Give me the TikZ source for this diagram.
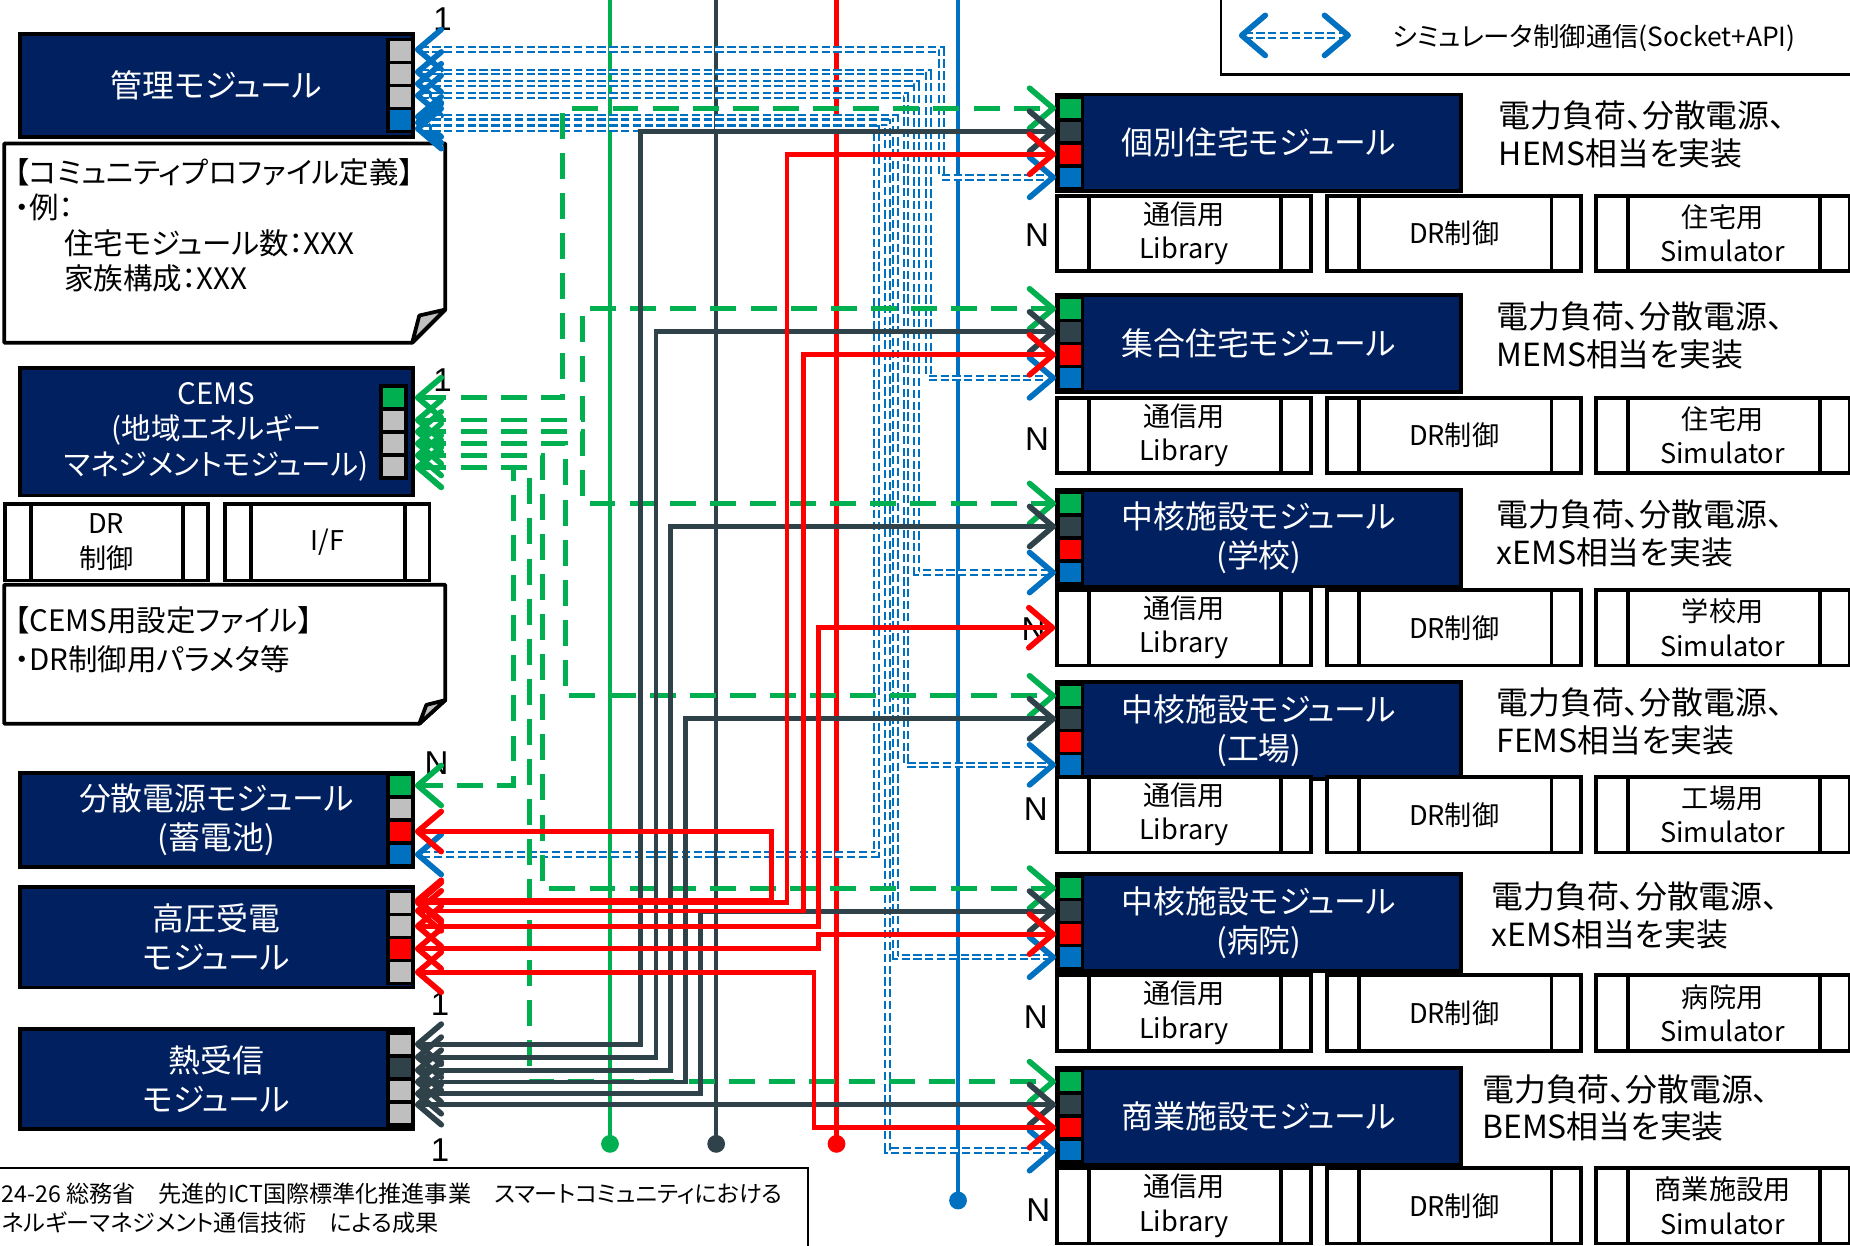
\documentclass[tikz,border=0pt]{standalone}
\usepackage{fontspec}
\setmainfont{Noto Sans CJK JP}[RawFeature=+palt]
\newfontfamily\numfont{Liberation Sans}
\usetikzlibrary{arrows.meta, positioning}
\definecolor{modnavy}{HTML}{002060}
\definecolor{portgray}{HTML}{BFBFBF}
\definecolor{sigreen}{HTML}{00B050}
\definecolor{sidark}{HTML}{2F4249}
\definecolor{sired}{HTML}{FF0000}
\definecolor{siblue}{HTML}{0070C0}

\begin{document}
\begin{tikzpicture}[
  x=0.5pt, y=-0.5pt,
  module/.style={draw=black, line width=1.6pt, fill=modnavy, text=white, align=center,
    inner sep=0pt, font=\fontsize{13.5}{16.5}\selectfont},
  port/.style={draw=black, line width=1.5pt, minimum width=10.5pt, minimum height=9.75pt, inner sep=0pt},
  libbox/.style={draw=black, line width=1.6pt, fill=white, minimum width=107.5pt,
    minimum height=32pt, inner sep=0pt, align=center, font=\fontsize{11.5}{14.5}\selectfont,
    path picture={\draw[line width=1.6pt]
      ([xshift=13.5pt]path picture bounding box.north west) -- ([xshift=13.5pt]path picture bounding box.south west)
      ([xshift=-12.5pt]path picture bounding box.north east) -- ([xshift=-12.5pt]path picture bounding box.south east);}},
  smalllib/.style={libbox, minimum height=32.5pt,
    path picture={\draw[line width=1.6pt]
      ([xshift=11pt]path picture bounding box.north west) -- ([xshift=11pt]path picture bounding box.south west)
      ([xshift=-10.5pt]path picture bounding box.north east) -- ([xshift=-10.5pt]path picture bounding box.south east);}},
  desc/.style={anchor=west, align=left, inner sep=0pt, font=\fontsize{13.5}{16}\selectfont},
  mult/.style={inner sep=0pt, font=\numfont\fontsize{14}{14}\selectfont},
  notebox/.style={draw=black, line width=1.6pt, fill=white, line join=round},
  notetext/.style={anchor=north west, align=left, inner sep=0pt, font=\fontsize{12.5}{15}\selectfont},
  twoway/.style={{Straight Barb[round, length=10pt, width=17pt, line width=2.4pt]}-{Straight Barb[round, length=10pt, width=17pt, line width=2.4pt]}},
  glink/.style={draw=sigreen, line width=2pt, dash pattern=on 11pt off 6pt, twoway},
  dlink/.style={draw=sidark, line width=2pt, twoway},
  rlink/.style={draw=sired, line width=2pt, twoway},
  blink/.style={draw=siblue, line width=0.85pt, double=white, double distance=1.1pt,
    dash pattern=on 3.5pt off 1.5pt, twoway},
  bus/.style={line width=1.8pt, -{Circle[length=7.5pt, width=7.5pt]}}
]
  \useasboundingbox (0,0) rectangle (1568,1056);

  % Legend and footer frames.
  \node[draw=black, line width=1pt, minimum width=272.5pt, minimum height=36pt, inner sep=0pt] (legend) at (1307.5,27) {};
  \coordinate (leg-a) at (1050,30);
  \coordinate (leg-b) at (1145,30);
  \node[anchor=west, inner sep=0pt, font=\fontsize{11.2}{14}\selectfont] (leg-text) at (1180,32) {シミュレータ制御通信(Socket+API)};
  \node[draw=black, line width=0.8pt, minimum width=346pt, minimum height=40pt, inner sep=0pt] (footer) at (339,1030) {};
  \node[anchor=west, align=left, inner sep=0pt, font=\fontsize{9.8}{12}\selectfont] (footer-text) at (1,1024)
    {24-26 総務省　先進的ICT国際標準化推進事業　スマートコミュニティにおける\\ネルギーマネジメント通信技術　による成果};

  % Left-hand modules.
  \node[module, minimum width=166.5pt, minimum height=43.5pt] (kanri) at (183.5,72.5) {管理モジュール};
  \node[port, fill=portgray] (kanri-1) at (339.5,43.25) {};
  \node[port, fill=portgray] (kanri-2) at (339.5,62.75) {};
  \node[port, fill=portgray] (kanri-3) at (339.5,82.25) {};
  \node[port, fill=siblue] (kanri-4) at (339.5,101.75) {};
  \node[mult] (kanri-m) at (375,16) {1};

  \node[inner sep=0pt, minimum width=186.5pt, minimum height=84pt] (prof) at (190.5,206) {};
  \draw[notebox] (prof.north west) -- (prof.north east) -- ([yshift=14pt]prof.south east)
    -- ([xshift=-14pt]prof.south east) -- (prof.south west) -- cycle;
  \draw[notebox, fill=portgray] ([yshift=14pt]prof.south east) -- ([xshift=-14pt]prof.south east)
    -- ([xshift=-11pt, yshift=11.5pt]prof.south east) -- cycle;
  \node[notetext] (prof-text) at (12,134) {【コミュニティプロファイル定義】\\・例：\\\hspace*{21pt}住宅モジュール数：XXX\\\hspace*{21pt}家族構成：XXX};

  \node[module, minimum width=166.5pt, minimum height=54pt, font=\fontsize{12.5}{15}\selectfont] (cems) at (183.5,366)
    {CEMS\\(地域エネルギー\\マネジメントモジュール)};
  \node[port, fill=sigreen] (cems-1) at (333.5,337) {};
  \node[port, fill=portgray] (cems-2) at (333.5,356.5) {};
  \node[port, fill=portgray] (cems-3) at (333.5,376) {};
  \node[port, fill=portgray] (cems-4) at (333.5,395.5) {};
  \node[mult] (cems-m) at (375,322) {1};
  \node[smalllib, minimum width=86pt] (cems-dr) at (90,459.5) {DR\\制御};
  \node[smalllib, minimum width=86.5pt] (cems-if) at (277.5,459.5) {I/F};

  \node[inner sep=0pt, minimum width=186.5pt, minimum height=58.5pt] (cemsfile) at (190.5,554.5) {};
  \draw[notebox] (cemsfile.north west) -- (cemsfile.north east) -- ([yshift=10pt]cemsfile.south east)
    -- ([xshift=-11pt]cemsfile.south east) -- (cemsfile.south west) -- cycle;
  \draw[notebox, fill=portgray] ([yshift=10pt]cemsfile.south east) -- ([xshift=-11pt]cemsfile.south east)
    -- ([xshift=-8pt, yshift=8pt]cemsfile.south east) -- cycle;
  \node[notetext, font=\fontsize{12.5}{16.5}\selectfont] (cemsfile-text) at (12,514) {【CEMS用設定ファイル】\\・DR制御用パラメタ等};

  \node[module, minimum width=166.5pt, minimum height=40pt] (bunsan) at (183.5,695) {分散電源モジュール\\(蓄電池)};
  \node[port, fill=sigreen] (bunsan-1) at (339.5,665.75) {};
  \node[port, fill=portgray] (bunsan-2) at (339.5,685.25) {};
  \node[port, fill=sired] (bunsan-3) at (339.5,704.75) {};
  \node[port, fill=siblue] (bunsan-4) at (339.5,724.25) {};
  \node[mult] (bunsan-m) at (370,647) {N};

  \node[module, minimum width=166.5pt, minimum height=42.5pt] (koatsu) at (183.5,794.5) {高圧受電\\モジュール};
  \node[port, fill=portgray] (koatsu-1) at (339.5,765.25) {};
  \node[port, fill=portgray] (koatsu-2) at (339.5,784.75) {};
  \node[port, fill=sired] (koatsu-3) at (339.5,804.25) {};
  \node[port, fill=portgray] (koatsu-4) at (339.5,823.75) {};
  \node[mult] (koatsu-m) at (373,851) {1};

  \node[module, minimum width=166.5pt, minimum height=42.5pt] (netsu) at (183.5,914.5) {熱受信\\モジュール};
  \node[port, fill=portgray] (netsu-1) at (339.5,885.25) {};
  \node[port, fill=sidark] (netsu-2) at (339.5,904.75) {};
  \node[port, fill=portgray] (netsu-3) at (339.5,924.25) {};
  \node[port, fill=portgray] (netsu-4) at (339.5,943.75) {};
  \node[mult] (netsu-m) at (373,975) {1};

  % Right-hand modules.
  \node[module, minimum width=171pt, minimum height=41pt] (kobetsu) at (1067,121) {個別住宅モジュール};
  \node[port, fill=sigreen] (kobetsu-g) at (907,91.75) {};
  \node[port, fill=sidark] (kobetsu-d) at (907,111.25) {};
  \node[port, fill=sired] (kobetsu-r) at (907,130.75) {};
  \node[port, fill=siblue] (kobetsu-b) at (907,150.25) {};
  \node[libbox] (kobetsu-lib) at (1003.5,198) {通信用\\Library};
  \node[libbox] (kobetsu-dr) at (1232.5,198) {DR制御};
  \node[libbox] (kobetsu-sim) at (1460,198) {住宅用\\Simulator};
  \node[mult] (kobetsu-n) at (879,199) {N};
  \node[desc] (kobetsu-desc) at (1270,114) {電力負荷、分散電源、\\HEMS相当を実装};

  \node[module, minimum width=171pt, minimum height=41pt] (shugo) at (1067,291) {集合住宅モジュール};
  \node[port, fill=sigreen] (shugo-g) at (907,261.75) {};
  \node[port, fill=sidark] (shugo-d) at (907,281.25) {};
  \node[port, fill=sired] (shugo-r) at (907,300.75) {};
  \node[port, fill=siblue] (shugo-b) at (907,320.25) {};
  \node[libbox] (shugo-lib) at (1003.5,369) {通信用\\Library};
  \node[libbox] (shugo-dr) at (1232.5,369) {DR制御};
  \node[libbox] (shugo-sim) at (1460,369) {住宅用\\Simulator};
  \node[mult] (shugo-n) at (879,372) {N};
  \node[desc] (shugo-desc) at (1268,284) {電力負荷、分散電源、\\MEMS相当を実装};

  \node[module, minimum width=171pt, minimum height=41pt] (gakko) at (1067,456) {中核施設モジュール\\(学校)};
  \node[port, fill=sigreen] (gakko-g) at (907,426.75) {};
  \node[port, fill=sidark] (gakko-d) at (907,446.25) {};
  \node[port, fill=sired] (gakko-r) at (907,465.75) {};
  \node[port, fill=siblue] (gakko-b) at (907,485.25) {};
  \node[libbox] (gakko-lib) at (1003.5,532) {通信用\\Library};
  \node[libbox] (gakko-dr) at (1232.5,532) {DR制御};
  \node[libbox] (gakko-sim) at (1460,532) {学校用\\Simulator};
  \node[mult] (gakko-n) at (876,533) {N};
  \node[desc] (gakko-desc) at (1268,452) {電力負荷、分散電源、\\xEMS相当を実装};

  \node[module, minimum width=171pt, minimum height=41pt] (kojo) at (1067,619) {中核施設モジュール\\(工場)};
  \node[port, fill=sigreen] (kojo-g) at (907,589.75) {};
  \node[port, fill=sidark] (kojo-d) at (907,609.25) {};
  \node[port, fill=sired] (kojo-r) at (907,628.75) {};
  \node[port, fill=siblue] (kojo-b) at (907,648.25) {};
  \node[libbox] (kojo-lib) at (1003.5,690.5) {通信用\\Library};
  \node[libbox] (kojo-dr) at (1232.5,690.5) {DR制御};
  \node[libbox] (kojo-sim) at (1460,690.5) {工場用\\Simulator};
  \node[mult] (kojo-n) at (878,686) {N};
  \node[desc] (kojo-desc) at (1268,611.5) {電力負荷、分散電源、\\FEMS相当を実装};

  \node[module, minimum width=171pt, minimum height=41pt] (byoin) at (1067,782) {中核施設モジュール\\(病院)};
  \node[port, fill=sigreen] (byoin-g) at (907,752.75) {};
  \node[port, fill=sidark] (byoin-d) at (907,772.25) {};
  \node[port, fill=sired] (byoin-r) at (907,791.75) {};
  \node[port, fill=siblue] (byoin-b) at (907,811.25) {};
  \node[libbox] (byoin-lib) at (1003.5,858.5) {通信用\\Library};
  \node[libbox] (byoin-dr) at (1232.5,858.5) {DR制御};
  \node[libbox] (byoin-sim) at (1460,858.5) {病院用\\Simulator};
  \node[mult] (byoin-n) at (878,862) {N};
  \node[desc] (byoin-desc) at (1264,776) {電力負荷、分散電源、\\xEMS相当を実装};

  \node[module, minimum width=171pt, minimum height=41pt] (shogyo) at (1067,946) {商業施設モジュール};
  \node[port, fill=sigreen] (shogyo-g) at (907,916.75) {};
  \node[port, fill=sidark] (shogyo-d) at (907,936.25) {};
  \node[port, fill=sired] (shogyo-r) at (907,955.75) {};
  \node[port, fill=siblue] (shogyo-b) at (907,975.25) {};
  \node[libbox] (shogyo-lib) at (1003.5,1022) {通信用\\Library};
  \node[libbox] (shogyo-dr) at (1232.5,1022) {DR制御};
  \node[libbox] (shogyo-sim) at (1460,1022) {商業施設用\\Simulator};
  \node[mult] (shogyo-n) at (880,1026) {N};
  \node[desc] (shogyo-desc) at (1256,939) {電力負荷、分散電源、\\BEMS相当を実装};

  % Shared buses.
  \coordinate (gbus-top) at (517,-5);
  \coordinate (gbus-end) at (517,977);
  \coordinate (dbus-top) at (607,-5);
  \coordinate (dbus-end) at (607,977);
  \coordinate (rbus-top) at (709,-5);
  \coordinate (rbus-end) at (709,977);
  \coordinate (bbus-top) at (812,-5);
  \coordinate (bbus-end) at (812,1025);
  \draw[bus, draw=sigreen] (gbus-top) -- (gbus-end);
  \draw[bus, draw=sidark] (dbus-top) -- (dbus-end);
  \draw[bus, draw=sired] (rbus-top) -- (rbus-end);
  \draw[bus, draw=siblue] (bbus-top) -- (bbus-end);

  % Simulator control links from the management module.
  \draw[blink] (leg-a) -- (leg-b);
  \draw[blink] (kanri.east |- 0,42) -- (798,42) |- (kobetsu-b.west);
  \draw[blink] (kanri.east |- 0,61) -- (787,61) |- (shugo-b.west);
  \draw[blink] (kanri.east |- 0,71) -- (777,71) |- (gakko-b.west);
  \draw[blink] (kanri.east |- 0,81) -- (768,81) |- (kojo-b.west);
  \draw[blink] (kanri.east |- 0,99) -- (759,99) |- (byoin-b.west);
  \draw[blink] (kanri.east |- 0,104) -- (752,104) |- (shogyo-b.west);
  \draw[blink] (kanri.east |- 0,109) -- (743,109) |- (bunsan.east |- bunsan-4);

  % CEMS links.
  \draw[glink] (cems.east |- 0,337) -- (477,337) |- (kobetsu-g.west);
  \draw[glink] (cems.east |- 0,356) -- (494,356) |- (shugo-g.west);
  \draw[glink] (cems.east |- 0,366) -- (494,366) |- (gakko-g.west);
  \draw[glink] (cems.east |- 0,376) -- (479,376) |- (kojo-g.west);
  \draw[glink] (cems.east |- 0,386) -- (460,386) |- (byoin-g.west);
  \draw[glink] (cems.east |- 0,396) -- (449,396) |- (shogyo-g.west);
  \draw[glink] (cems.east |- 0,396) -- (435,396) |- (bunsan.east |- bunsan-1);

  % Heat links.
  \draw[dlink] (netsu.east |- 0,885) -- (543,885) |- (kobetsu-d.west);
  \draw[dlink] (netsu.east |- 0,896) -- (556,896) |- (shugo-d.west);
  \draw[dlink] (netsu.east |- 0,907) -- (568,907) |- (gakko-d.west);
  \draw[dlink] (netsu.east |- 0,917) -- (581,917) |- (kojo-d.west);
  \draw[dlink] (netsu.east |- 0,927) -- (594,927) |- (byoin-d.west);
  \draw[dlink] (netsu.east |- shogyo-d) -- (shogyo-d.west);

  % Power links.
  \draw[rlink] (bunsan.east |- bunsan-3) -| (654,763) -- (koatsu.east |- 0,763);
  \draw[rlink] (koatsu.east |- 0,765) -- (667,765) |- (kobetsu-r.west);
  \draw[rlink] (koatsu.east |- 0,772) -- (681,772) |- (shugo-r.west);
  \draw[rlink] (koatsu.east |- 0,785) -- (694,785) |- (gakko-lib.west);
  \draw[rlink] (koatsu.east |- 0,804) -- (694,804) |- (byoin-r.west);
  \draw[rlink] (koatsu.east |- 0,824) -- (690,824) |- (shogyo-r.west);
\end{tikzpicture}
\end{document}
